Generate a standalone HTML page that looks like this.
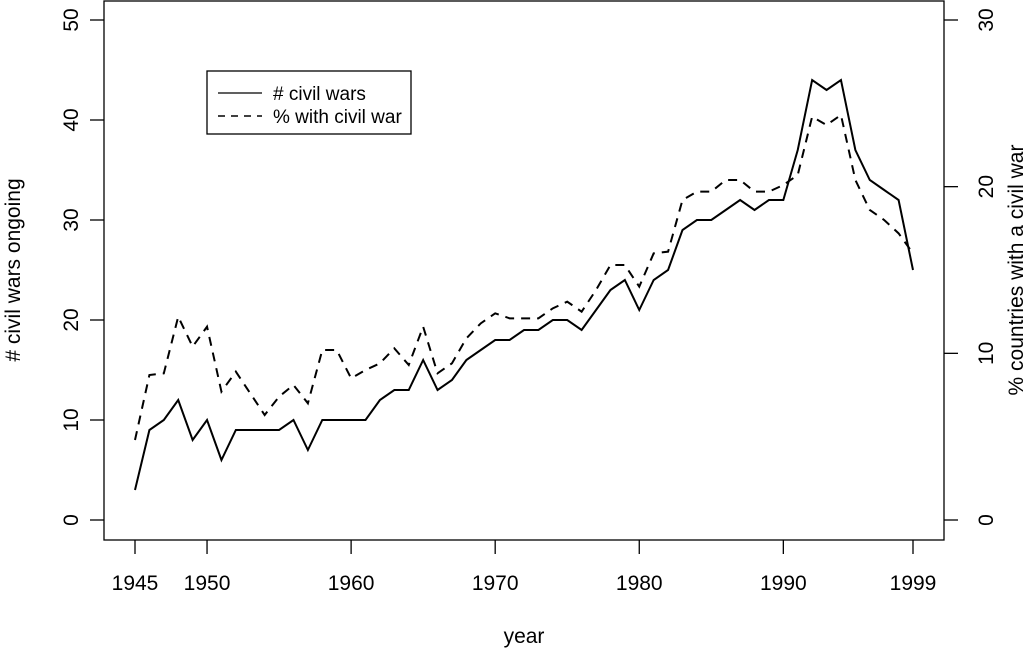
<!DOCTYPE html>
<html><head><meta charset="utf-8"><style>
html,body{margin:0;padding:0;background:#fff;}
svg{display:block;font-family:"Liberation Sans",Arial,sans-serif;}
</style></head><body>
<svg id="chart" width="1023" height="649" viewBox="0 0 1023 649" xmlns="http://www.w3.org/2000/svg"></svg>
<script>
const years = [];
for (let y = 1945; y <= 1999; y++) years.push(y);
const civilWars = [3,9,10,12,8,10,6,9,9,9,9,10,7,10,10,10,10,12,13,13,16,13,14,16,17,18,18,19,19,20,20,19,21,23,24,21,24,25,29,30,30,31,32,31,32,32,37,44,43,44,37,34,33,32,25];
const pctWar = [4.8,8.7,8.8,12.2,10.4,11.6,7.7,8.9,7.6,6.3,7.4,8.1,7.0,10.2,10.2,8.5,9.0,9.4,10.3,9.3,11.6,8.8,9.4,10.9,11.8,12.4,12.1,12.1,12.1,12.7,13.1,12.5,13.8,15.3,15.3,14.0,16.0,16.1,19.2,19.7,19.7,20.4,20.4,19.7,19.7,20.1,20.7,24.2,23.7,24.3,20.4,18.6,18.0,17.2,16.0];
const xTicks = [1945,1950,1960,1970,1980,1990,1999];
const yLeftTicks = [0,10,20,30,40,50];
const yRightTicks = [0,10,20,30];

const svg = document.getElementById('chart');
const NS = 'http://www.w3.org/2000/svg';
const L=104, R=944, T=1, B=540;
const xS = v => 135 + (v-1945)*(913-135)/54;
const yL = v => 520 - v*10;
const yR = v => 520 - v*500/30;
function mk(tag, attrs, parent){const e=document.createElementNS(NS,tag);for(const k in attrs)e.setAttribute(k,attrs[k]);(parent||svg).appendChild(e);return e;}

const box = mk('rect',{x:L,y:T,width:R-L,height:B-T,fill:'none',stroke:'#000','stroke-width':1.3});



xTicks.forEach(t=>{
  const l=mk('line',{x1:xS(t),x2:xS(t),y1:B,y2:B+14,stroke:'#000','stroke-width':1.3});
  
  
  const tx=mk('text',{x:xS(t),y:590,'font-size':21,'text-anchor':'middle'});
  tx.textContent=t;
  
  
});
yLeftTicks.forEach(t=>{
  const l=mk('line',{x1:L-14,x2:L,y1:yL(t),y2:yL(t),stroke:'#000','stroke-width':1.3});
  
  
  const tx=mk('text',{x:0,y:0,'font-size':21,'text-anchor':'middle',transform:`translate(78,${yL(t)}) rotate(-90)`});
  tx.textContent=t;
  
  
});
yRightTicks.forEach(t=>{
  const l=mk('line',{x1:R,x2:R+14,y1:yR(t),y2:yR(t),stroke:'#000','stroke-width':1.3});
  
  
  const tx=mk('text',{x:0,y:0,'font-size':21,'text-anchor':'middle',transform:`translate(993,${yR(t)}) rotate(-90)`});
  tx.textContent=t;
  
  
});

const t1=mk('text',{x:524,y:643,'font-size':21,'text-anchor':'middle'});t1.textContent='year';


const t2=mk('text',{x:0,y:0,'font-size':21,'text-anchor':'middle',transform:'translate(20,270) rotate(-90)'});t2.textContent='# civil wars ongoing';


const t3=mk('text',{x:0,y:0,'font-size':21,'text-anchor':'middle',transform:'translate(1023,270) rotate(-90)'});t3.textContent='% countries with a civil war';



const p1=mk('polyline',{points:years.map((y,i)=>xS(y)+','+yL(civilWars[i])).join(' '),fill:'none',stroke:'#000','stroke-width':2});


const p2=mk('polyline',{points:years.map((y,i)=>xS(y)+','+yR(pctWar[i])).join(' '),fill:'none',stroke:'#000','stroke-width':2,'stroke-dasharray':'9 7'});



const lg=mk('g',{});


mk('rect',{x:207,y:71,width:204,height:63,fill:'#fff',stroke:'#000','stroke-width':1.3},lg);
mk('line',{x1:218,x2:262,y1:93,y2:93,stroke:'#000','stroke-width':1.3},lg);
mk('line',{x1:218,x2:262,y1:116,y2:116,stroke:'#000','stroke-width':1.5,'stroke-dasharray':'7 6'},lg);
const l1=mk('text',{x:273,y:100,'font-size':19},lg);l1.textContent='# civil wars';


const l2=mk('text',{x:273,y:123,'font-size':19},lg);l2.textContent='% with civil war';


</script>
</body></html>
